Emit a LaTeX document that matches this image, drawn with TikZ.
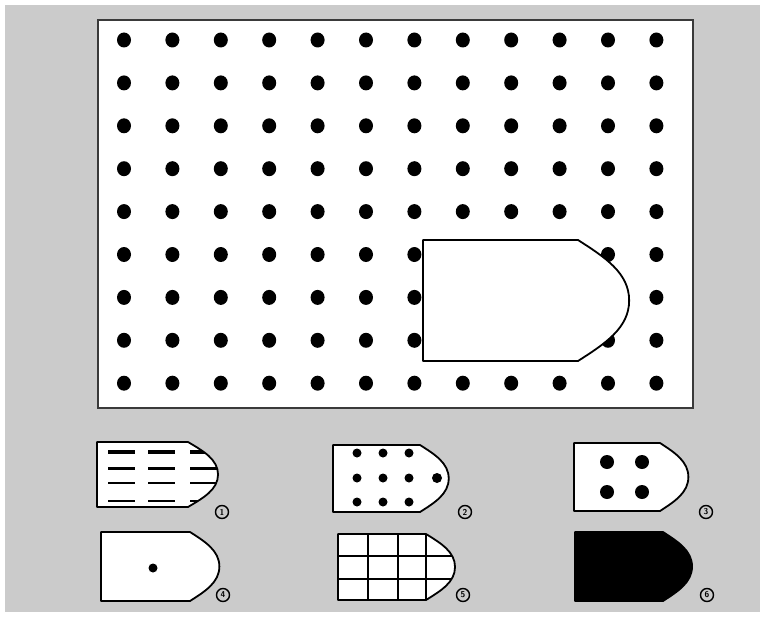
\documentclass[tikz,border=0pt]{standalone}
\usepackage{tikz}
\definecolor{PanelGray}{HTML}{CBCBCB}
\definecolor{FrameDark}{HTML}{3A3A3A}
\tikzset{
  board/.style={draw=FrameDark,fill=white,line width=2pt},
  tile/.style={draw=black,fill=white,line width=1.8pt,line join=round},
  solidtile/.style={draw=black,fill=black,line width=1.8pt,line join=round},
  gridline/.style={draw=black,line width=1.8pt},
  optlabel/.style={circle,draw=black,line width=1.4pt,inner sep=0pt,minimum size=13pt,
    font=\sffamily\bfseries\fontsize{8.5}{8.5}\selectfont}
}
% outline of the cut-out piece, size from \tilew and \tileh
\newcommand\tileoutline{(0,0) -- (\tilew,0)
  .. controls ({1.17*\tilew},{0.14*\tileh}) and ({1.33*\tilew},{0.27*\tileh}) .. ({1.33*\tilew},{0.5*\tileh})
  .. controls ({1.33*\tilew},{0.73*\tileh}) and ({1.17*\tilew},{0.86*\tileh}) .. (\tilew,\tileh)
  -- (0,\tileh) -- cycle}
\begin{document}
\begin{tikzpicture}[x=1pt,y=-1pt]
  \useasboundingbox[fill=white] (0,0) rectangle (766,618);
  \fill[PanelGray] (5,5) rectangle (760,612);
  % the dotted board
  \draw[board] (98,20) rectangle (693,408);
  \foreach \i in {0,...,11}
    \foreach \j in {0,...,8}
      \fill ({124+48.4*\i},{40+42.9*\j}) circle[x radius=7,y radius=7.5];
  \begin{scope}[shift={(423,240)}]
    \def\tilew{155}\def\tileh{121}
    \draw[tile] \tileoutline;
  \end{scope}
  % choice 1
  \begin{scope}[shift={(97,442)}]
    \def\tilew{91}\def\tileh{65}
    \draw[tile] \tileoutline;
    \begin{scope}
      \clip \tileoutline;
      \foreach \y/\w in {10/3.5,26/3,41/2.6,59/2.2}
        \foreach \x in {11,51,93}
          \draw[line width=\w pt] (\x,\y) -- +(27,0);
    \end{scope}
  \end{scope}
  % choice 2
  \begin{scope}[shift={(333,445)}]
    \def\tilew{87}\def\tileh{67}
    \draw[tile] \tileoutline;
    \foreach \x in {24,50,76}
      \foreach \y in {8,33,57}
        \fill (\x,\y) circle[radius=4.5];
    \fill (104,33) circle[radius=5];
  \end{scope}
  % choice 3
  \begin{scope}[shift={(574,443)}]
    \def\tilew{86}\def\tileh{68}
    \draw[tile] \tileoutline;
    \foreach \x in {33,68}
      \foreach \y in {19,49}
        \fill (\x,\y) circle[radius=7];
  \end{scope}
  % choice 4
  \begin{scope}[shift={(101,532)}]
    \def\tilew{89}\def\tileh{69}
    \draw[tile] \tileoutline;
    \fill (52,36) circle[radius=4.5];
  \end{scope}
  % choice 5
  \begin{scope}[shift={(338,534)}]
    \def\tilew{88}\def\tileh{66}
    \draw[tile] \tileoutline;
    \begin{scope}
      \clip \tileoutline;
      \foreach \x in {30,60,88}
        \draw[gridline] (\x,0) -- (\x,\tileh);
      \foreach \y in {22,45}
        \draw[gridline] (0,\y) -- (125,\y);
    \end{scope}
  \end{scope}
  % choice 6
  \begin{scope}[shift={(575,532)}]
    \def\tilew{88}\def\tileh{69}
    \draw[solidtile] \tileoutline;
  \end{scope}
  % numbers
  \node[optlabel] (lab1) at (222,512) {1};
  \node[optlabel] (lab2) at (465,512) {2};
  \node[optlabel] (lab3) at (706,512) {3};
  \node[optlabel] (lab4) at (223,595) {4};
  \node[optlabel] (lab5) at (463,595) {5};
  \node[optlabel] (lab6) at (707,595) {6};
\end{tikzpicture}
\end{document}
